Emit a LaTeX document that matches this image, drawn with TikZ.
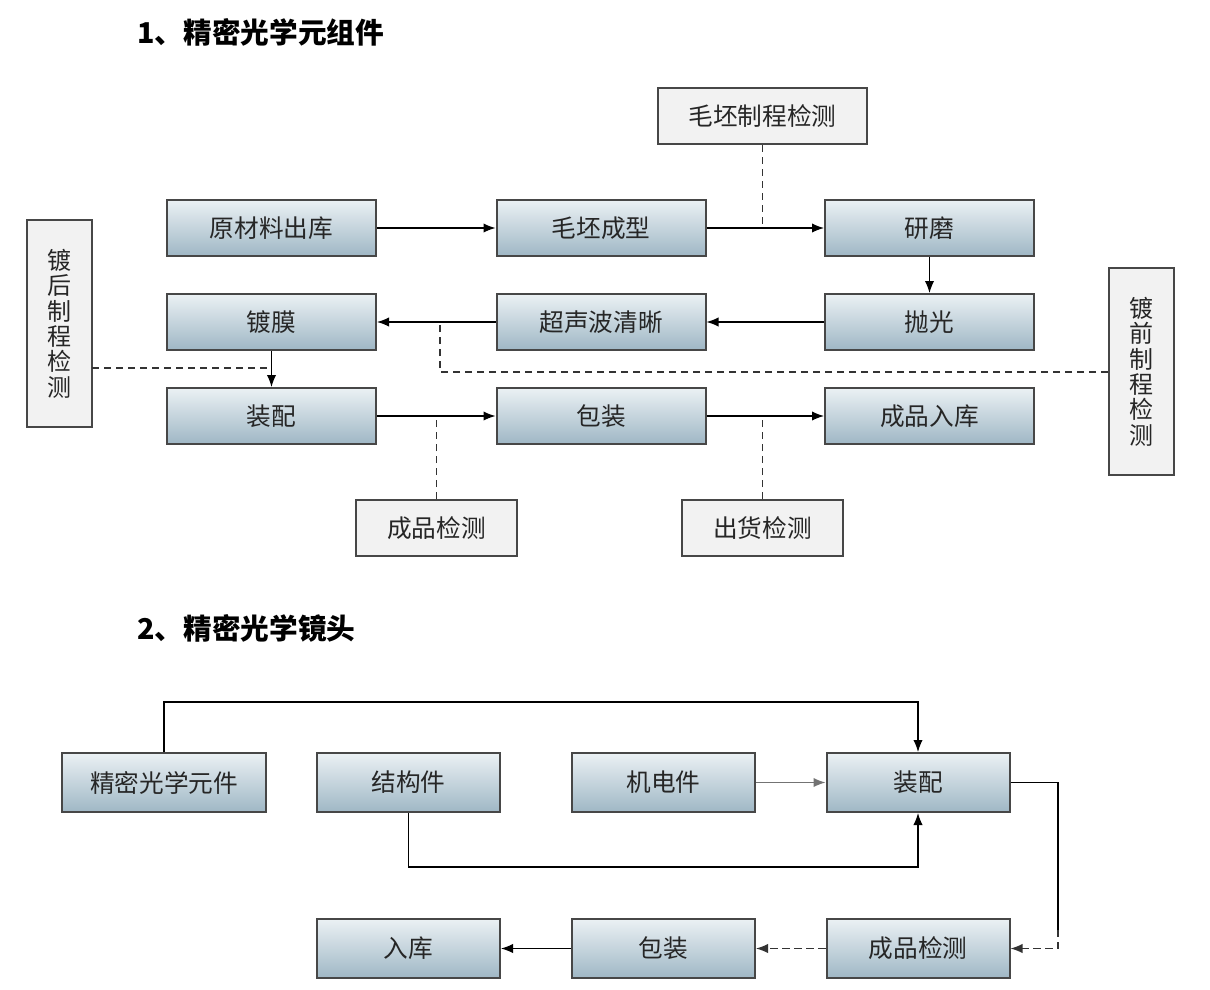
\documentclass[tikz,border=0pt]{standalone}
\usepackage{fontspec}
\usepackage{xcolor}
\usepackage{tikz}
\usetikzlibrary{arrows.meta}
\newfontfamily\cjk{Noto Sans CJK SC}

\definecolor{boxtop}{HTML}{EBF1F4}
\definecolor{boxbot}{HTML}{9FB7C5}
\definecolor{boxline}{HTML}{474747}
\definecolor{chkfill}{HTML}{F2F2F2}
\definecolor{txt}{HTML}{262626}

\tikzset{
  proc/.style={draw=boxline, line width=1.5pt, top color=boxtop, bottom color=boxbot,
    minimum width=156.75pt, minimum height=42pt, inner sep=0pt, text=txt,
    font=\cjk\fontsize{18.5}{22}\selectfont},
  procb/.style={proc, minimum width=137.25pt, minimum height=44.25pt},
  chk/.style={draw=boxline, line width=1.5pt, fill=chkfill, minimum width=120.75pt,
    minimum height=42pt, inner sep=0pt, text=txt, font=\cjk\fontsize{18.5}{22}\selectfont},
  vchk/.style={chk, minimum width=48.75pt, minimum height=155.25pt, align=center,
    font=\cjk\fontsize{18}{19}\selectfont},
  title/.style={anchor=west, inner sep=0pt, font=\cjk\bfseries\fontsize{21.5}{24}\selectfont},
  arr/.style={-{Latex[length=9pt,width=7pt]}, line width=0.9pt},
  dline/.style={dash pattern=on 5.5pt off 3.5pt, line width=1.1pt, draw=black!80},
}

\begin{document}
\begin{tikzpicture}[x=0.75pt, y=-0.75pt]
\useasboundingbox (0,0) rectangle (1210,989);

\node[title] (t1) at (137,32) {1、精密光学元组件};
\node[title] (t2) at (137,628) {2、精密光学镜头};

\node[proc] (yuanliao) at (271.5,228) {原材料出库};
\node[proc] (maopi) at (601,228) {毛坯成型};
\node[proc] (yanmo) at (929.5,228) {研磨};
\node[proc] (dumo) at (271.5,322) {镀膜};
\node[proc] (qingxi) at (601,322) {超声波清晰};
\node[proc] (paoguang) at (929.5,322) {抛光};
\node[proc] (zhuangpei) at (271.5,416) {装配};
\node[proc] (baozhuang) at (601,416) {包装};
\node[proc] (ruku) at (929.5,416) {成品入库};

\node[chk, minimum width=156.75pt] (mpjc) at (762.5,116) {毛坯制程检测};
\node[chk] (cpjc) at (436.5,528) {成品检测};
\node[chk] (chjc) at (762.5,528) {出货检测};
\node[vchk] (duhou) at (59.5,323.5) {镀\\后\\制\\程\\检\\测};
\node[vchk] (duqian) at (1141.5,371.5) {镀\\前\\制\\程\\检\\测};

\coordinate (hou) at (92,368);
\coordinate (qian) at (440,372);

\draw[arr] (yuanliao) -- (maopi);
\draw[arr] (maopi) -- (yanmo);
\draw[arr] (yanmo) -- (paoguang);
\draw[arr] (paoguang) -- (qingxi);
\draw[arr] (qingxi) -- (dumo);
\draw[arr] (dumo) -- (zhuangpei);
\draw[arr] (zhuangpei) -- (baozhuang);
\draw[arr] (baozhuang) -- (ruku);

\draw[dline] (mpjc.south) -- (mpjc.south |- maopi.east);
\draw[dline] (duqian.west |- qian) -- (qian) -- (qian |- qingxi.west);
\draw[dline] (hou) -- (hou -| dumo.south);
\draw[dline] (cpjc.north) -- (cpjc.north |- zhuangpei.east);
\draw[dline] (chjc.north) -- (chjc.north |- baozhuang.east);

\node[procb, minimum width=153pt] (yuanjian) at (164,782.5) {精密光学元件};
\node[procb] (jiegou) at (408.5,782.5) {结构件};
\node[procb] (jidian) at (663.5,782.5) {机电件};
\node[procb] (zp) at (918,782.5) {装配};
\node[procb] (rk) at (408.5,948.5) {入库};
\node[procb] (bz) at (663.5,948.5) {包装};
\node[procb] (jc) at (918,948.5) {成品检测};

\coordinate (top) at (0,702);
\coordinate (low) at (0,867);
\coordinate (rt) at (1058,930);

\draw[arr] (yuanjian.north) |- (top -| zp.north) -- (zp.north);
\draw[arr] (jiegou.south) |- (low -| zp.south) -- (zp.south);
\draw[arr, draw=black!55, -{Latex[length=9pt,width=7pt,fill=black!55]}] (jidian) -- (zp);
\draw[line width=0.9pt] (zp.east) -| (rt);
\draw[dline, arr] (rt) |- (jc.east);
\draw[dline, arr] (jc) -- (bz);
\draw[arr] (bz) -- (rk);
\end{tikzpicture}
\end{document}
